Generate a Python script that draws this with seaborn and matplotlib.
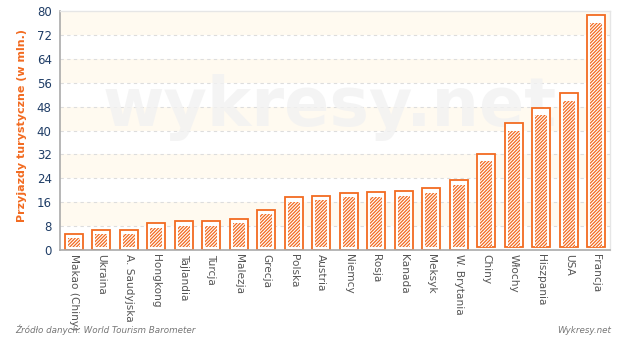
import matplotlib
matplotlib.use("Agg")
import matplotlib.pyplot as plt
import seaborn as sns
import pandas as pd
import numpy as np

countries = ["Makao (Chiny)", "Ukraina", "A. Saudyjska", "Hongkong", "Tajlandia", "Turcja",
             "Malezja", "Grecja", "Polska", "Austria", "Niemcy", "Rosja", "Kanada", "Meksyk",
             "W. Brytania", "Chiny", "Włochy", "Hiszpania", "USA", "Francja"]
values = [5.3, 6.6, 6.6, 8.9, 9.6, 9.6, 10.3, 13.3, 17.6, 18.0, 19.0, 19.3, 19.6, 20.6,
          23.3, 31.3, 41.4, 46.6, 51.4, 77.5]
yticks = list(range(0, 81, 8))

ORANGE = "#f26b21"
df = pd.DataFrame({"kraj": countries, "wartosc": values})
df["wew"] = df["wartosc"] - 2.4

sns.set_theme(style="white")
plt.rcParams["font.family"] = ["DejaVu Sans"]
plt.rcParams["hatch.linewidth"] = 0.9
plt.rcParams["hatch.color"] = ORANGE

fig = plt.figure(figsize=(6.2, 3.37), dpi=100)
ax = fig.add_axes([60/620, 87/337, 550/620, 239/337])

# background bands
for i, lo in enumerate(yticks[:-1]):
    if i % 2 == 1:
        ax.axhspan(lo, lo + 8, color="#fffaf0", zorder=0, lw=0)
for t in yticks[1:-1]:
    ax.axhline(t, color="#dddddd", lw=0.8, ls=(0, (3, 3)), zorder=0.5)

ax.text(0.49, 0.595, "wykresy.net", ha="center", va="center", fontsize=48,
        fontweight="bold", color="#f2f2f2", zorder=0.8, alpha=0.8,
        transform=ax.transAxes)

sns.barplot(data=df, x="kraj", y="wartosc", ax=ax, width=0.65, color="white",
            edgecolor=ORANGE, linewidth=1.3, zorder=2)
sns.barplot(data=df, x="kraj", y="wew", ax=ax, width=0.42, color="white",
            edgecolor=ORANGE, linewidth=0, hatch="//////////", zorder=3)
# lift inner hatched bars off baseline
for p in ax.patches[len(values):]:
    p.set_y(1.0)
    p.set_facecolor("white")

ax.set_ylim(0, 80)
ax.set_xlim(-0.5, len(countries) - 0.5)
ax.set_yticks(yticks)
ax.set_yticklabels([str(t) for t in yticks], color="#1f3d66", fontsize=8.5)
ax.set_xticks(range(len(countries)))
ax.set_xticklabels(countries, rotation=270, color="#555555", fontsize=7.6, va="top", ha="center")
ax.tick_params(axis="y", length=3, color="#aaaaaa", pad=3)
ax.tick_params(axis="x", length=0, pad=3)
ax.set_xlabel("")
ax.set_ylabel("Przyjazdy turystyczne (w mln.)", color=ORANGE, fontsize=8,
              fontweight="bold", labelpad=7)
ax.yaxis.label.set_y(0.52)
for s in ["left", "bottom"]:
    ax.spines[s].set_color("#aaaaaa")
    ax.spines[s].set_linewidth(1.2)
for s in ["top", "right"]:
    ax.spines[s].set_color("#e6e6e6")
    ax.spines[s].set_linewidth(1)

fig.text(15/620, 1 - 335/337, "Źródło danych: World Tourism Barometer", fontsize=6.3,
         style="italic", color="#777777", ha="left", va="bottom")
fig.text(611/620, 1 - 335/337, "Wykresy.net", fontsize=6.3, style="italic",
         color="#777777", ha="right", va="bottom")

fig.savefig("out.png", dpi=100)
